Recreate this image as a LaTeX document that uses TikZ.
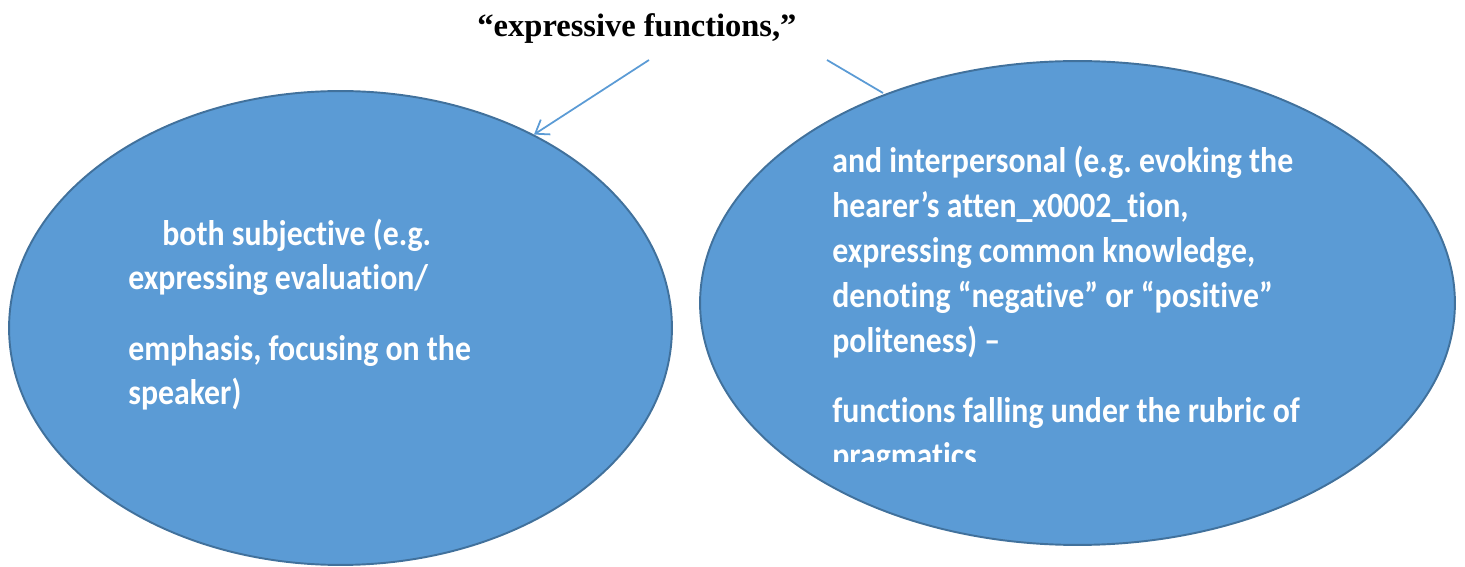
\documentclass[tikz,border=0pt]{standalone}
\usepackage{fontspec}
\setmainfont{Carlito}[Ligatures=NoCommon]
\newfontfamily\titlefont{Liberation Serif}
\usetikzlibrary{shapes.geometric,arrows.meta}
\definecolor{ovalblue}{HTML}{5B9BD5}
\definecolor{ovalline}{HTML}{41719C}
\newcommand{\tallline}[1]{\scalebox{1}[1.12]{#1}}
\frenchspacing
\tikzset{
  oval/.style={
    ellipse,
    draw=ovalline,
    fill=ovalblue,
    line width=1.1pt,
    inner sep=0pt
  },
  ovaltext/.style={
    anchor=base west,
    inner sep=0pt,
    text=white,
    font=\fontsize{18.1}{21}\selectfont\bfseries
  },
  link/.style={
    draw=ovalblue,
    line width=1pt
  }
}
\begin{document}
\begin{tikzpicture}[x=0.02cm,y=-0.02cm]
    \useasboundingbox (0,0) rectangle (1465,567);
    \node[anchor=base,inner sep=0pt,font=\titlefont\fontsize{18.5}{22}\selectfont\bfseries] (title) at (637,37) {“expressive functions,”};
    \coordinate (t1) at (649,60);
    \coordinate (t2) at (827,60);
    % the line on the right runs under the oval
    \draw[link] (t2) -- (883,93);
    \node[oval,minimum width=13.26cm,minimum height=9.48cm] (left) at (340.5,328) {};
    \node[oval,minimum width=15.1cm,minimum height=9.68cm] (right) at (1077.5,303) {};
    \draw[link,-{Straight Barb[length=7pt,width=10pt]}] (t1) -- (left.45.4);
    % left oval
    \node[ovaltext] (l1) at (162,246) {\tallline{both subjective (e.g.}};
    \node[ovaltext] (l2) at (128,290) {\tallline{expressing evaluation/}};
    \node[ovaltext] (l3) at (128,361) {\tallline{emphasis, focusing on the}};
    \node[ovaltext] (l4) at (128,405) {\tallline{speaker)}};
    % right oval
    \node[ovaltext] (r1) at (832,173) {\tallline{and interpersonal (e.g. evoking the}};
    \node[ovaltext] (r2) at (832,218) {\tallline{hearer’s atten\_x0002\_tion,}};
    \node[ovaltext] (r3) at (832,263) {\tallline{expressing common knowledge,}};
    \node[ovaltext] (r4) at (832,308) {\tallline{denoting “negative” or “positive”}};
    \node[ovaltext] (r5) at (832,353) {\tallline{politeness) –}};
    \node[ovaltext] (r6) at (832,423) {\tallline{functions falling under the rubric of}};
    \begin{scope}
      \clip (800,430) rectangle (1400,462);
      \node[ovaltext] (r7) at (832,468) {\tallline{pragmatics}};
    \end{scope}
\end{tikzpicture}
\end{document}
